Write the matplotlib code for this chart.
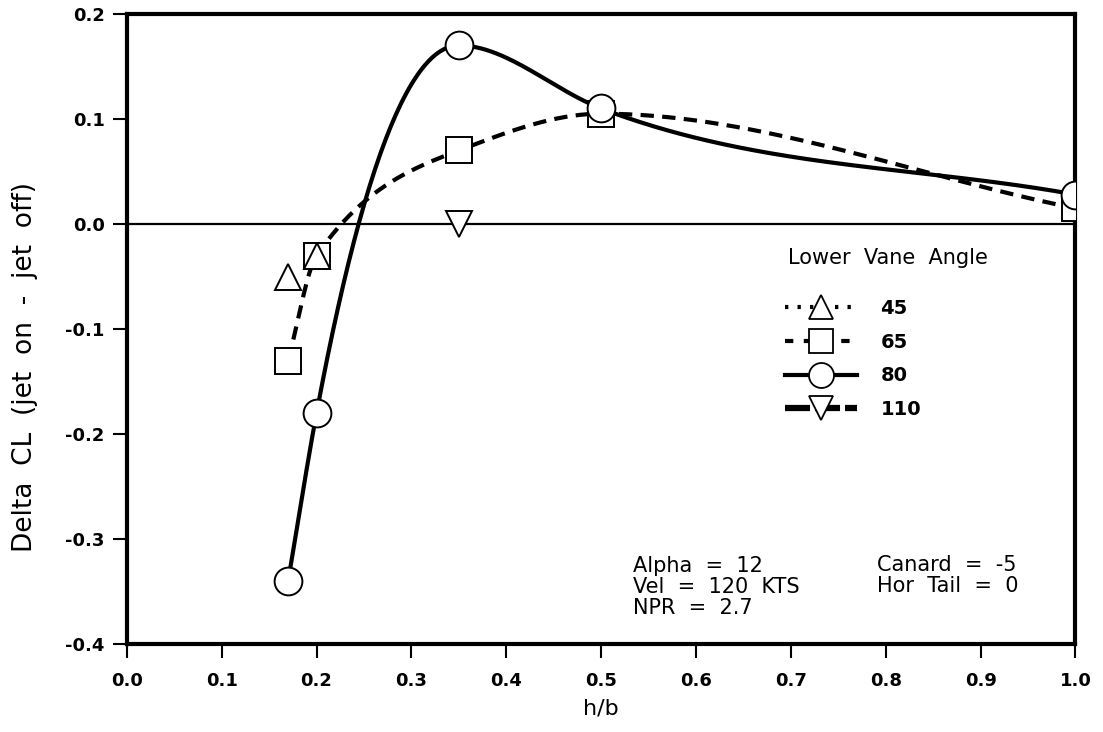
import numpy as np
import matplotlib.pyplot as plt
from matplotlib.lines import Line2D

plt.rcParams["font.family"] = ["DejaVu Sans"]

# h/b values and delta CL for each lower vane angle
hb_45 = [0.17, 0.20]
cl_45 = [-0.05, -0.03]

hb_65 = [0.17, 0.20, 0.35, 0.50, 1.00]
cl_65 = [-0.13, -0.03, 0.07, 0.105, 0.015]

hb_80 = [0.17, 0.20, 0.35, 0.50, 1.00]
cl_80 = [-0.34, -0.18, 0.17, 0.11, 0.028]

hb_110 = [0.35]
cl_110 = [0.0]

vane_labels = ["45", "65", "80", "110"]
x_ticks = [0.0, 0.1, 0.2, 0.3, 0.4, 0.5, 0.6, 0.7, 0.8, 0.9, 1.0]
y_ticks = [-0.4, -0.3, -0.2, -0.1, 0.0, 0.1, 0.2]


def smooth_curve(x, y, bessel=False, n=300):
    # cubic hermite through the points, only for drawing the smooth line
    x = np.asarray(x, float)
    y = np.asarray(y, float)
    h = np.diff(x)
    dlt = np.diff(y) / h
    m = np.zeros(len(x))
    m[0], m[-1] = dlt[0], dlt[-1]
    for i in range(1, len(x) - 1):
        if dlt[i - 1] * dlt[i] <= 0:
            continue
        if bessel:
            m[i] = (h[i] * dlt[i - 1] + h[i - 1] * dlt[i]) / (h[i - 1] + h[i])
        else:
            w1 = 2 * h[i] + h[i - 1]
            w2 = h[i] + 2 * h[i - 1]
            m[i] = (w1 + w2) / (w1 / dlt[i - 1] + w2 / dlt[i])
    xs = np.linspace(x[0], x[-1], n)
    idx = np.clip(np.searchsorted(x, xs) - 1, 0, len(x) - 2)
    t = (xs - x[idx]) / h[idx]
    h00 = 2 * t**3 - 3 * t**2 + 1
    h10 = t**3 - 2 * t**2 + t
    h01 = -2 * t**3 + 3 * t**2
    h11 = t**3 - t**2
    ys = h00 * y[idx] + h10 * h[idx] * m[idx] + h01 * y[idx + 1] + h11 * h[idx] * m[idx + 1]
    return xs, ys


fig = plt.figure(figsize=(11.03, 7.32), dpi=100)
ax = fig.add_axes([0.115, 0.12, 0.86, 0.861])

ax.axhline(0.0, color="black", lw=1.6, zorder=1)

mk = dict(mfc="white", mec="black", mew=1.4, zorder=5)

xs, ys = smooth_curve(hb_65, cl_65)
ax.plot(xs, ys, color="black", lw=3, ls=(0, (3.2, 2)), zorder=2)
ax.plot(hb_65, cl_65, ls="none", marker="s", ms=19, **mk)

xs, ys = smooth_curve(hb_80, cl_80, bessel=True)
ax.plot(xs, ys, color="black", lw=3, zorder=3)
ax.plot(hb_80, cl_80, ls="none", marker="o", ms=20, mfc="white", mec="black", mew=1.4, zorder=6)

ax.plot(hb_45, cl_45, ls="none", marker="^", ms=19, **mk)
ax.plot(hb_110, cl_110, ls="none", marker="v", ms=19, **mk)

ax.set_xlim(0.0, 1.0)
ax.set_ylim(-0.4, 0.2)
ax.set_xticks(x_ticks)
ax.set_yticks(y_ticks)
ax.set_xticklabels([f"{v:.1f}" for v in x_ticks], fontweight="bold", fontsize=13)
ax.set_yticklabels([f"{v:.1f}" for v in y_ticks], fontweight="bold", fontsize=13)
ax.tick_params(axis="x", direction="out", length=10, width=1.5, pad=10)
ax.tick_params(axis="y", direction="out", length=10, width=1.5, pad=6)
for s in ax.spines.values():
    s.set_linewidth(3)

ax.set_xlabel("h/b", fontsize=16, labelpad=6)
ax.set_ylabel("Delta  CL  (jet  on  -  jet  off)", fontsize=19)
ax.yaxis.set_label_coords(-0.094, 0.44)

handles = [
    Line2D([], [], color="black", lw=3, ls=(0, (0.8, 2.2)), marker="^", ms=17, mfc="white", mec="black", mew=1.3),
    Line2D([], [], color="black", lw=3, ls=(0, (2, 2.5)), marker="s", ms=17, mfc="white", mec="black", mew=1.3),
    Line2D([], [], color="black", lw=3, marker="o", ms=18, mfc="white", mec="black", mew=1.3),
    Line2D([], [], color="black", lw=4.5, ls=(0, (4, 0.8)), marker="v", ms=17, mfc="white", mec="black", mew=1.3),
]
ax.legend(handles, vane_labels, loc="upper left", bbox_to_anchor=(0.694, 0.548),
          frameon=False, borderpad=0, borderaxespad=0,
          prop={"weight": "bold", "size": 14},
          handlelength=3.7, labelspacing=0.76, handletextpad=1.2)
ax.text(0.697, 0.613, "Lower  Vane  Angle", transform=ax.transAxes,
        fontsize=15, va="center", ha="left")

ax.text(0.534, 0.042, "Alpha  =  12\nVel  =  120  KTS\nNPR  =  2.7", transform=ax.transAxes,
        fontsize=15, va="bottom", ha="left", linespacing=1.05)
ax.text(0.791, 0.077, "Canard  =  -5\nHor  Tail  =  0", transform=ax.transAxes,
        fontsize=15, va="bottom", ha="left", linespacing=1.05)

fig.savefig("out.png", dpi=100)
